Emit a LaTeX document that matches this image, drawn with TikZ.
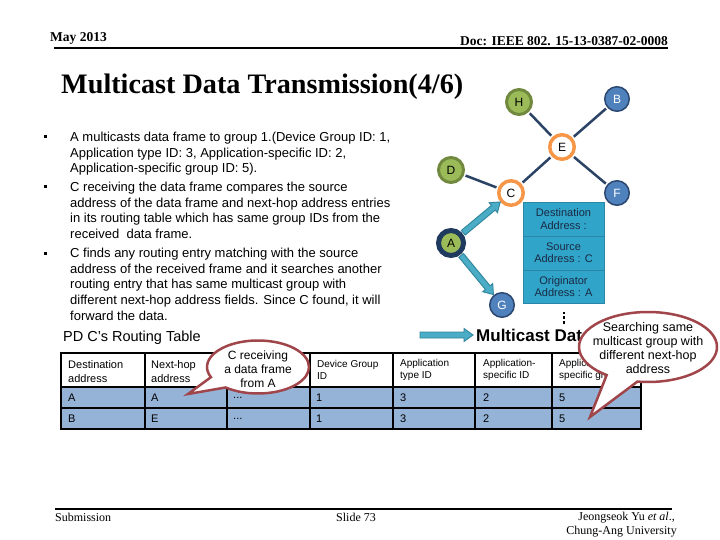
\documentclass[tikz,border=0pt]{standalone}
\usepackage{fontspec}
\setmainfont{Liberation Sans}
\newfontfamily\tnr{Liberation Serif}
\usetikzlibrary{shapes.callouts,shapes.geometric,calc}
\definecolor{edgenavy}{HTML}{2B4364}
\definecolor{greenfill}{HTML}{9BBB59}
\definecolor{greenring}{HTML}{71893F}
\definecolor{bluefill}{HTML}{4F81BD}
\definecolor{bluering}{HTML}{2C4770}
\definecolor{orangering}{HTML}{F79646}
\definecolor{aring}{HTML}{1F3A5F}
\definecolor{tealfill}{HTML}{4BACC6}
\definecolor{tealdark}{HTML}{31859C}
\definecolor{pkfill}{HTML}{31A4C9}
\definecolor{pkline}{HTML}{2A86A6}
\definecolor{pktext}{HTML}{1A2A44}
\definecolor{rowblue}{HTML}{95B3D7}
\definecolor{callred}{HTML}{A0464B}
\newcommand\fs[2]{\fontsize{#1}{#2}\selectfont}
\newcommand\calltext[2]{\makebox[0pt]{\smash{\raisebox{#1}{\begin{tabular}{@{}c@{}}#2\end{tabular}}}}}
\newcommand\blockarrow[3]{%
  \coordinate (#3b) at ($(#2)!9pt!(#1)$);
  \filldraw[barrow] ($(#1)!3pt!90:(#2)$) -- ($(#3b)!3pt!90:(#2)$) -- ($(#3b)!6.5pt!90:(#2)$)
    -- (#2) -- ($(#3b)!6.5pt!-90:(#2)$) -- ($(#3b)!3pt!-90:(#2)$) -- ($(#1)!3pt!-90:(#2)$) -- cycle;}
\begin{document}
\begin{tikzpicture}[x=1pt,y=-1pt,
  netnode/.style={circle, inner sep=0pt, font=\fs{12}{14}},
  grn/.style={netnode, fill=greenfill, draw=greenring, line width=3pt, minimum size=25pt},
  blu/.style={netnode, fill=bluefill, draw=bluering, line width=1.5pt, minimum size=24.5pt, text=white},
  org/.style={netnode, fill=white, draw=orangering, line width=3.5pt, minimum size=24.5pt},
  anode/.style={netnode, fill=greenfill, draw=aring, line width=5pt, minimum size=25pt},
  link/.style={draw=edgenavy, line width=2.5pt, shorten <=1.6pt, shorten >=1.6pt},
  barrow/.style={draw=tealdark, fill=tealfill, line width=0.9pt, line join=miter},
  pkt/.style={rectangle, fill=pkfill, draw=pkline, line width=0.8pt, minimum width=81pt, inner sep=0pt, align=center, font=\fs{11}{12.4}, text=pktext},
  bline/.style={anchor=base west, inner sep=0pt, font=\fs{13}{15.6}},
  bsq/.style={rectangle, fill=black, minimum size=3pt, inner sep=0pt},
  thead/.style={anchor=west, inner sep=0pt, align=left, font=\fs{10}{12}},
  thead2/.style={anchor=west, inner sep=0pt, align=left, font=\fs{11}{14}},
  tcell/.style={anchor=west, inner sep=0pt, font=\fs{11}{13}},
  callout/.style={ellipse callout, draw=callred, fill=white, line width=2.5pt, inner sep=0pt, callout pointer arc=28},
  hdr/.style={inner sep=0pt, font=\tnr\bfseries\fs{13.5}{15}},
  ftr/.style={inner sep=0pt, font=\tnr\fs{12}{14}}]
\path[use as bounding box, fill=white] (0,0) rectangle (720,540);

% header
\node[hdr, anchor=west] (date) at (50,38) {May 2013};
\node[hdr, anchor=east] (doc) at (668,41) {Doc: IEEE 802. 15-13-0387-02-0008};
\draw[line width=2pt] (54,48) -- (668,48);
\node[anchor=base west, inner sep=0pt, font=\tnr\bfseries\fs{28.2}{31}] (title) at (61,94) {Multicast Data Transmission(4/6)};

% bullets
\node[bsq] (sq1) at (45.5,137) {};
\node[bsq] (sq2) at (45.5,187) {};
\node[bsq] (sq3) at (45.5,253) {};
\node[bline] (l1) at (70,141.6) {A multicasts data frame to group 1.(Device Group ID: 1,};
\node[bline] (l2) at (70,157.2) {Application type ID: 3, Application-specific ID: 2,};
\node[bline] (l3) at (70,172.8) {Application-specific group ID: 5).};
\node[bline] (l4) at (70,191.6) {C receiving the data frame compares the source};
\node[bline] (l5) at (70,207.2) {address of the data frame and next-hop address entries};
\node[bline] (l6) at (70,222.8) {in its routing table which has same group IDs from the};
\node[bline] (l7) at (70,238.4) {received\ \ data frame.};
\node[bline] (l8) at (70,257.6) {C finds any routing entry matching with the source};
\node[bline] (l9) at (70,273.2) {address of the received frame and it searches another};
\node[bline] (l10) at (70,288.8) {routing entry that has same multicast group with};
\node[bline] (l11) at (70,304.4) {different next-hop address fields. Since C found, it will};
\node[bline] (l12) at (70,320) {forward the data.};

% routing table
\node[anchor=west, inner sep=0pt, font=\fs{14.5}{17}] (rt) at (63,338) {PD C's Routing Table};
\fill[rowblue] (61,387) rectangle (641,429);
\draw[line width=2.2pt] (61,353) rectangle (641,429);
\foreach \xx in {145,227,310,393,475,552} \draw[line width=2.2pt] (\xx,353) -- (\xx,429);
\foreach \yy in {387,408} \draw[line width=2.2pt] (61,\yy) -- (641,\yy);
\node[thead2] (h1) at (68,372) {Destination\\address};
\node[thead2] (h2) at (151,372) {Next-hop\\address};
\node[thead] (h4) at (317,370) {Device Group\\ID};
\node[thead] (h5) at (400,370) {Application\\type ID};
\node[thead] (h6) at (483,370) {Application-\\specific ID};
\node[thead] (h7) at (559,370) {Application-\\specific group ID};
\node[tcell] (r11) at (68,397.5) {A};
\node[tcell] (r12) at (151,397.5) {A};
\node[tcell] (r13) at (233,397.5) {...};
\node[tcell] (r14) at (316,397.5) {1};
\node[tcell] (r15) at (400,397.5) {3};
\node[tcell] (r16) at (483,397.5) {2};
\node[tcell] (r17) at (559,397.5) {5};
\node[tcell] (r21) at (68,418.5) {B};
\node[tcell] (r22) at (151,418.5) {E};
\node[tcell] (r23) at (233,418.5) {...};
\node[tcell] (r24) at (316,418.5) {1};
\node[tcell] (r25) at (400,418.5) {3};
\node[tcell] (r26) at (483,418.5) {2};
\node[tcell] (r27) at (559,418.5) {5};

% network
\node[grn] (H) at (519,102) {H};
\node[blu] (B) at (617,99) {B};
\node[org] (E) at (562,147) {E};
\node[grn] (D) at (451,170) {D};
\node[org] (C) at (511,193) {C};
\node[blu] (F) at (617,193) {F};
\node[anode] (A) at (451,243) {A};
\node[blu] (G) at (502,305) {G};
\draw[link] (H) -- (E);
\draw[link] (B) -- (E);
\draw[link] (E) -- (F);
\draw[link] (E) -- (C);
\draw[link] (D) -- (C);
\coordinate (acs) at ($(A)!16pt!(C)$);
\coordinate (act) at ($(C)!14pt!(A)$);
\blockarrow{acs}{act}{ac}
\coordinate (ags) at ($(A)!16pt!(G)$);
\coordinate (agt) at ($(G)!13.5pt!(A)$);
\blockarrow{ags}{agt}{ag}

% packet
\node[pkt, minimum height=34pt] (pk1) at (563.5,219) {Destination\\Address :};
\node[pkt, minimum height=34pt] (pk2) at (563.5,253) {Source\\Address : C};
\node[pkt, minimum height=33pt] (pk3) at (563.5,286.5) {Originator\\Address : A};
\foreach \yy in {313,317.7,322.2} \fill (562.7,\yy-1.3) rectangle ++(2.6,2.6);

% multicast data
\node[anchor=west, inner sep=0pt, font=\bfseries\fs{17}{20}] (mtext) at (476,335) {Multicast Data};
\coordinate (ms) at (420,335);
\coordinate (mt) at (473,335);
\blockarrow{ms}{mt}{mm}

% callouts
\coordinate (p1) at (188,394);
\node[callout, minimum width=102pt, minimum height=53pt, callout absolute pointer={(p1)}, font=\fs{12}{14}] (cr) at (258,367)
  {\calltext{-6.2pt}{C receiving\\a data frame\\from A}};
\coordinate (p2) at (590,417);
\node[callout, minimum width=138pt, minimum height=70pt, callout absolute pointer={(p2)}, font=\fs{12.5}{14.2}] (cs) at (648,347)
  {\calltext{-5.5pt}{Searching same\\multicast group with\\different next-hop\\address}};

% footer
\draw[line width=1.5pt] (55,509) -- (672,509);
\node[ftr, anchor=west] (sub) at (55,517) {Submission};
\node[ftr] (slide) at (356,517) {Slide 73};
\node[ftr, anchor=east] (auth) at (675,518) {Jeongseok Yu \textit{et al}.,};
\node[ftr, anchor=east] (univ) at (677,532) {Chung-Ang University};
\end{tikzpicture}
\end{document}
